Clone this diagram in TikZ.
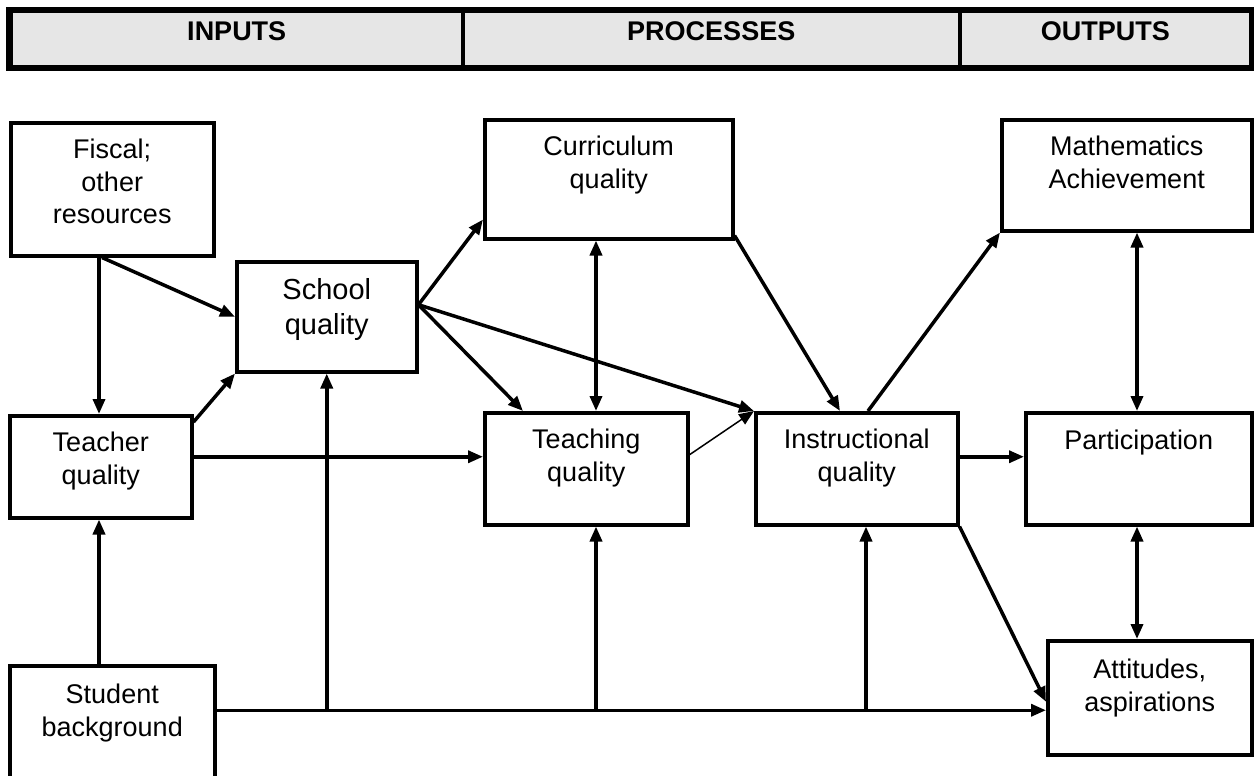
\documentclass[tikz,border=0pt]{standalone}
\usepackage{fontspec}
\setmainfont{Liberation Sans}
\usetikzlibrary{arrows.meta}
\definecolor{headgray}{RGB}{230,230,230}
\tikzset{
  box/.style={draw, line width=3.5pt, inner sep=0pt, align=center, anchor=north west,
    font=\fontsize{27}{32.5}\selectfont},
  cell/.style={draw, line width=3.5pt, fill=headgray, inner sep=0pt, anchor=north west,
    minimum height=55pt, text height=29pt, text depth=26pt, font=\fontsize{27}{32}\selectfont\bfseries},
  arr/.style={line width=3.5pt, -{Triangle[length=15pt,width=12pt]}},
  dblarr/.style={line width=3.5pt, {Triangle[length=15pt,width=12pt]}-{Triangle[length=15pt,width=12pt]}},
}
\begin{document}
\begin{tikzpicture}[x=1pt, y=-1pt]
    \useasboundingbox (0,0) rectangle (1254,776);

    \node[cell, minimum width=452pt] (inputs) at (9,10) {INPUTS};
    \node[cell, minimum width=497pt] (processes) at (461,10) {PROCESSES};
    \node[cell, minimum width=291pt] (outputs) at (958,10) {OUTPUTS};
    \draw[line width=5.5pt] (inputs.north west) rectangle (outputs.south east);

    \node[box, minimum width=203pt, text height=101pt, text depth=32pt] (fiscal) at (9,121) {Fiscal;\\ other\\ resources};
    \node[box, minimum width=180pt, text height=73pt, text depth=37pt,
      font=\fontsize{29}{35}\selectfont] (school) at (235,260) {School\\ quality};
    \node[box, minimum width=248pt, text height=68.5pt, text depth=50.5pt] (curric) at (483,118) {Curriculum\\ quality};
    \node[box, minimum width=250pt, text height=68.5pt, text depth=42.5pt] (maths) at (1000,118) {Mathematics\\ Achievement};
    \node[box, minimum width=182pt, text height=68.5pt, text depth=33.5pt] (teacher) at (8,414) {Teacher\\ quality};
    \node[box, minimum width=203pt, text height=68.5pt, text depth=43.5pt] (teaching) at (483,411) {Teaching\\ quality};
    \node[box, minimum width=202pt, text height=68.5pt, text depth=43.5pt] (instr) at (754,411) {Instructional\\ quality};
    \node[box, minimum width=226pt, text height=37pt, text depth=75pt] (partic) at (1024,411) {Participation};
    \node[box, minimum width=204pt, text height=70.5pt, text depth=43.5pt] (attit) at (1046,639) {Attitudes,\\ aspirations};
    \node[box, minimum width=205pt, text height=70.5pt, text depth=42.5pt] (student) at (8,664) {Student\\ background};

    \coordinate (sb) at ([yshift=12]student.east);
    \coordinate (tq-in) at ([xshift=113]teaching.south west);
    \coordinate (iq-in) at ([xshift=112]instr.south west);

    \draw[arr] ([xshift=90]fiscal.south west) -- ([xshift=91]teacher.north west);
    \draw[arr] ([xshift=93]fiscal.south west) -- (school.west);
    \draw[arr] ([yshift=-8]teacher.north east) -- (school.south west);
    \draw[arr] ([yshift=12]school.east) -- ([yshift=21]curric.south west);
    \draw[arr] ([yshift=12]school.east) -- ([xshift=40]teaching.north west);
    \draw[arr] ([yshift=12]school.east) -- (instr.north west);
    \draw[arr] ([yshift=10]teacher.east) -- ([yshift=12]teaching.west);
    \draw[line width=1.5pt, -{Triangle[length=15pt,width=12pt]}] ([yshift=14]teaching.east) -- (instr.north west);
    \draw[dblarr] ([xshift=113]curric.south west) -- ([xshift=113]teaching.north west);
    \draw[arr] ([yshift=5]curric.south east) -- ([xshift=86]instr.north west);
    \draw[arr] ([xshift=114]instr.north west) -- (maths.south west);
    \draw[arr] ([yshift=12]instr.east) -- ([yshift=12]partic.west);
    \draw[dblarr] ([xshift=137]maths.south west) -- ([xshift=113]partic.north west);
    \draw[dblarr] ([xshift=113]partic.south west) -- ([xshift=91]attit.north west);
    \draw[arr] (instr.south east) -- ([yshift=-4]attit.west);

    \draw[arr] ([xshift=91]student.north west) -- ([xshift=91]teacher.south west);
    \draw[arr] (student.east |- sb) -- (sb -| attit.west);
    \draw[arr] (sb -| school.south) -- (school.south);
    \draw[arr] (tq-in |- sb) -- (tq-in);
    \draw[arr] (iq-in |- sb) -- (iq-in);
\end{tikzpicture}
\end{document}
